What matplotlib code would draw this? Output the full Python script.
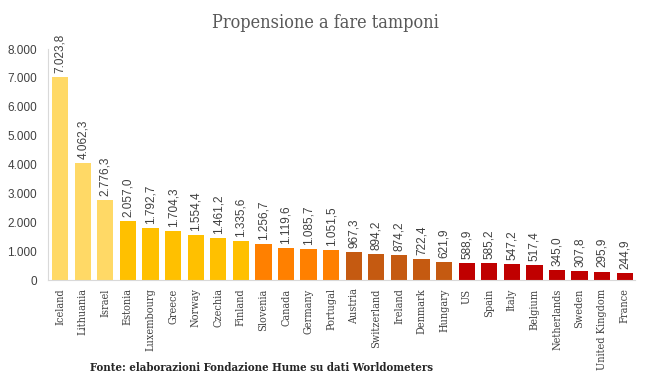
import matplotlib.pyplot as plt
from matplotlib.ticker import FuncFormatter

countries = ["Iceland", "Lithuania", "Israel", "Estonia", "Luxembourg", "Greece",
             "Norway", "Czechia", "Finland", "Slovenia", "Canada", "Germany",
             "Portugal", "Austria", "Switzerland", "Ireland", "Denmark", "Hungary",
             "US", "Spain", "Italy", "Belgium", "Netherlands", "Sweden",
             "United Kingdom", "France"]
values = [7023.8, 4062.3, 2776.3, 2057.0, 1792.7, 1704.3, 1554.4, 1461.2, 1335.6,
          1256.7, 1119.6, 1085.7, 1051.5, 967.3, 894.2, 874.2, 722.4, 621.9,
          588.9, 585.2, 547.2, 517.4, 345.0, 307.8, 295.9, 244.9]
groups = [0, 0, 0, 1, 1, 1, 1, 1, 1, 2, 2, 2, 2, 3, 3, 3, 3, 3,
          4, 4, 4, 4, 4, 4, 4, 4]
group_colors = ["#FFD966", "#FFC000", "#FF8000", "#C55A11", "#C00000"]


def it_num(v, dec):
    # Italian formatting: dot for thousands, comma for decimals
    s = f"{v:,.{dec}f}"
    return s.replace(",", "X").replace(".", ",").replace("X", ".")


serif = dict(family="DejaVu Serif", stretch="condensed")

fig = plt.figure(figsize=(6.51, 3.8), dpi=100)
ax = fig.add_axes([0.074, 0.263, 0.901, 0.608])

x = list(range(len(countries)))
colors = [group_colors[g] for g in groups]
ax.bar(x, values, width=0.72, color=colors)

for xi, v in zip(x, values):
    ax.text(xi, v + 140, it_num(v, 1), rotation=90, ha="center", va="bottom",
            fontsize=8.5, family="Liberation Sans", color="#404040")

ax.set_ylim(0, 8000)
ax.set_xlim(-0.53, len(countries) - 0.56)
ax.set_yticks(range(0, 8001, 1000))
ax.yaxis.set_major_formatter(FuncFormatter(lambda v, p: it_num(v, 0)))
ax.tick_params(axis="y", length=0, labelsize=8.5, labelcolor="#404040", pad=8)
for lab in ax.get_yticklabels():
    lab.set_family("Liberation Sans")

ax.set_xticks(x)
ax.set_xticklabels(countries, rotation=90, fontsize=7.8, color="#404040", **serif)
ax.tick_params(axis="x", length=0, pad=6)

for s in ["top", "right"]:
    ax.spines[s].set_visible(False)
ax.spines["left"].set_color("#D9D9D9")
ax.spines["bottom"].set_color("#D9D9D9")

fig.text(0.5, 0.94, "Propensione a fare tamponi", ha="center", va="center",
         fontsize=13, color="#595959", **serif)
fig.text(0.401, 0.032, "Fonte: elaborazioni Fondazione Hume su dati Worldometers",
         ha="center", va="center", fontsize=8.2, weight="bold", color="#262626",
         **serif)

fig.savefig("out.png", dpi=100)
